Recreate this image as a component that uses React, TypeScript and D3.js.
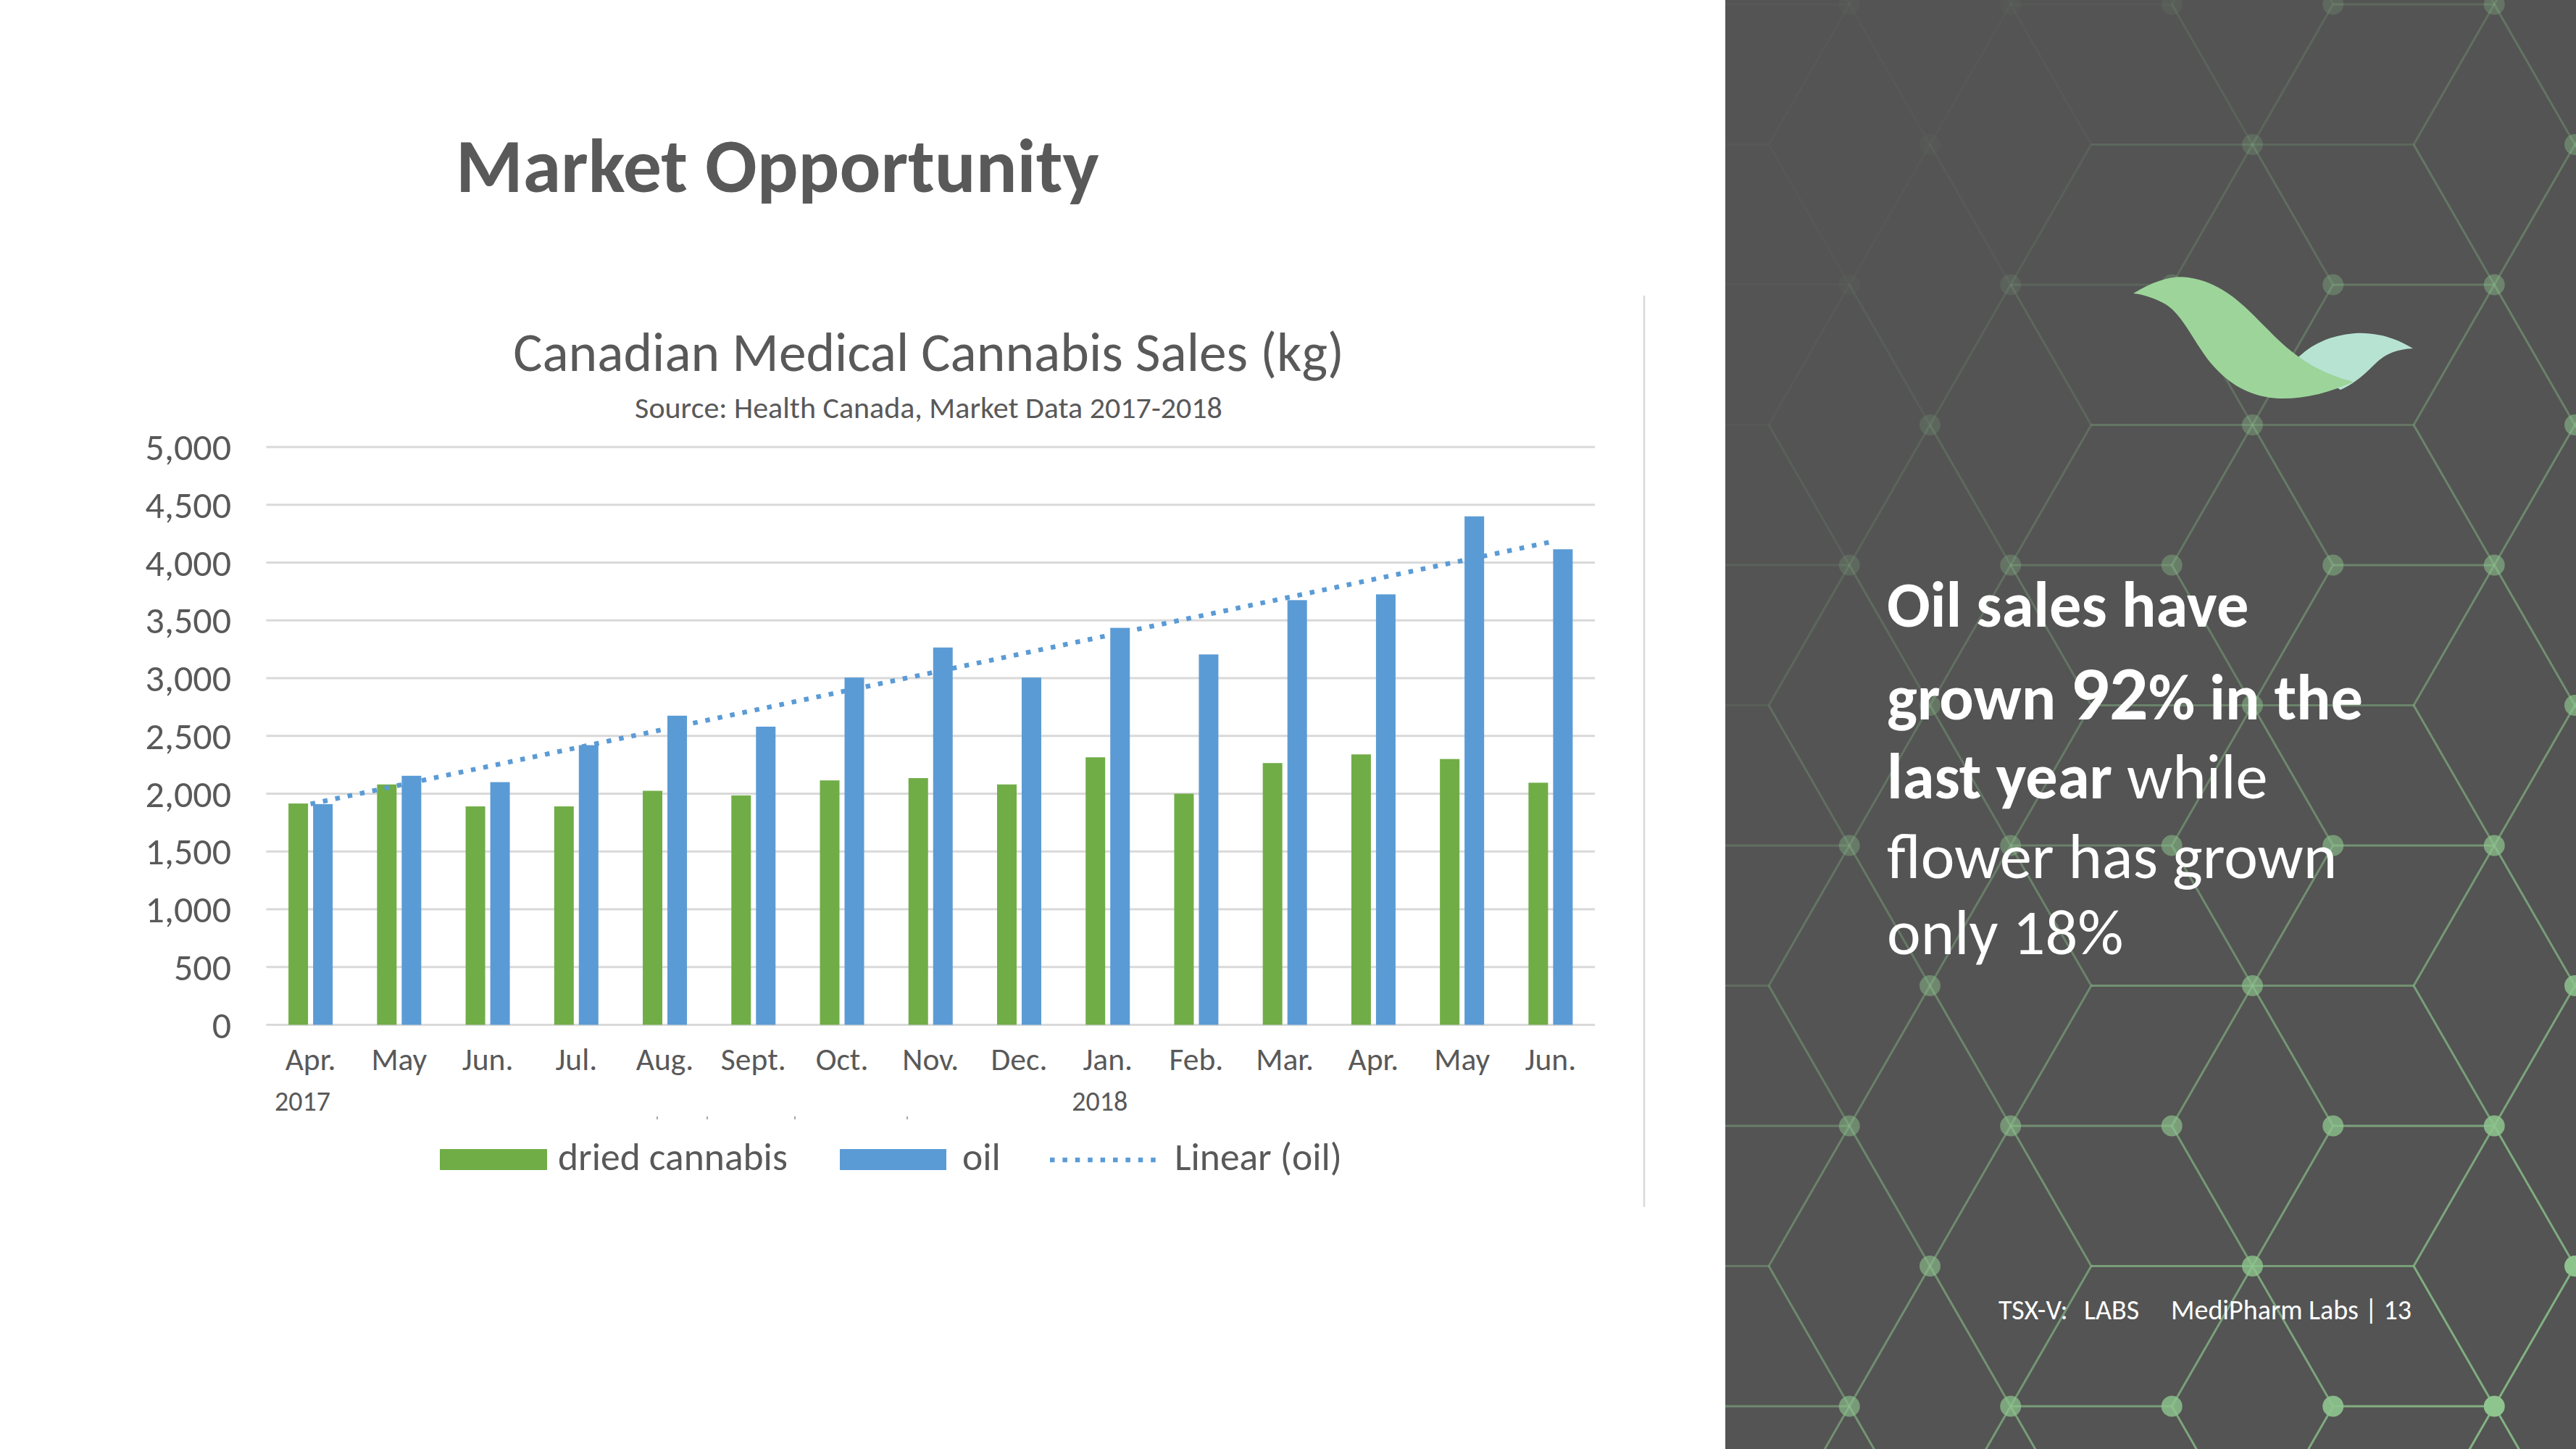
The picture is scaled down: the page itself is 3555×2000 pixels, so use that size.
import React from "react";
import * as d3 from "d3";

// ---------- data ----------
const categories = ["Apr.", "May", "Jun.", "Jul.", "Aug.", "Sept.", "Oct.", "Nov.", "Dec.", "Jan.", "Feb.", "Mar.", "Apr.", "May", "Jun."];
const yearLabels = [
  { index: 0, label: "2017" },
  { index: 9, label: "2018" },
];
const driedCannabis = [1915, 2080, 1890, 1890, 2025, 1985, 2115, 2135, 2080, 2315, 2000, 2265, 2340, 2300, 2095];
const oil = [1910, 2155, 2100, 2420, 2675, 2580, 3005, 3265, 3005, 3435, 3205, 3675, 3725, 4400, 4115];
const yTicks = [0, 500, 1000, 1500, 2000, 2500, 3000, 3500, 4000, 4500, 5000];
const seriesNames = ["dried cannabis", "oil"];
const trendName = "Linear (oil)";
const chartTitle = "Canadian Medical Cannabis Sales (kg)";
const chartSubtitle = "Source: Health Canada, Market Data 2017-2018";
const slideTitle = "Market Opportunity";

// ---------- layout ----------
const W = 3555;
const H = 2000;
const FONT = "Carlito, Calibri, Lato, sans-serif";
const GREEN = "#70ad47";
const BLUE = "#5b9bd5";
const TEXT_GRAY = "#595959";
const GRID = "#d9d9d9";
const PANEL_X = 2381;
const PANEL_BG = "#545454";

const plotLeft = 367.5;
const plotRight = 2201;
const plotBottom = 1414.5;
const plotTop = 617;

// hex lattice geometry (decorative background)
const HX0 = 2441;
const HDX = 222.5;
const HY0 = 6;
const HDY = 193.5;

function hexPattern() {
  const lines: { x1: number; y1: number; x2: number; y2: number }[] = [];
  const dots: { x: number; y: number }[] = [];
  const ax = (m: number) => HX0 + HDX / 2 + HDX * m;
  const bx = (k: number) => HX0 + HDX * k;
  const ry = (r: number) => HY0 + HDY * r;
  for (let r = -1; r <= 11; r++) {
    const odd = ((r % 2) + 2) % 2 === 1;
    if (odd) {
      for (let k = -2; k <= 7; k++) {
        const kk = ((k % 4) + 4) % 4;
        const x0 = bx(k);
        const y0 = ry(r);
        const targets = kk === 1 || kk === 3 ? [k - 1, k] : kk === 2 ? [k - 1] : [k];
        for (const rr of [r - 1, r + 1]) {
          for (const m of targets) lines.push({ x1: x0, y1: y0, x2: ax(m), y2: ry(rr) });
        }
        if (kk === 3) {
          lines.push({ x1: bx(k - 1), y1: y0, x2: bx(k + 1), y2: y0 });
        }
        if (k % 2 !== 0) dots.push({ x: x0, y: y0 });
      }
    } else {
      for (let m = -2; m <= 7; m++) {
        const x0 = ax(m);
        const y0 = ry(r);
        if (((m % 2) + 2) % 2 === 1) lines.push({ x1: x0, y1: y0, x2: x0 + HDX, y2: y0 });
        dots.push({ x: x0, y: y0 });
      }
    }
  }
  return { lines, dots };
}

function glow(x: number, y: number) {
  const xn = (x - PANEL_X) / (W - PANEL_X);
  const yn = y / H;
  return Math.max(0.04, Math.min(1, -0.18 + 0.5 * xn + 0.75 * yn));
}

export default function App() {
  const x = d3.scaleBand<number>().domain(d3.range(categories.length)).range([plotLeft, plotRight]);
  const xs = d3.scaleBand<string>().domain(seriesNames).range([-30.5, 30.5]).paddingInner(0.206);
  const y = d3.scaleLinear().domain([0, 5000]).range([plotBottom, plotTop]);
  const fmt = d3.format(",");
  const cx = (i: number) => (x(i) as number) + x.bandwidth() / 2;

  // least-squares linear trend of oil (Excel "Linear" trendline)
  const n = oil.length;
  const mx = d3.mean(d3.range(n)) as number;
  const my = d3.mean(oil) as number;
  const slope =
    d3.sum(d3.range(n), (i) => (i - mx) * (oil[i] - my)) / d3.sum(d3.range(n), (i) => (i - mx) * (i - mx));
  const intercept = my - slope * mx;
  const trend = d3
    .line<number>()
    .x((i) => cx(i))
    .y((i) => y(intercept + slope * i))([0, n - 1]) as string;

  const hex = hexPattern();

  return (
    <svg
      width={W}
      height={H}
      viewBox={`0 0 ${W} ${H}`}
      style={{ position: "absolute", left: 0, top: 0, display: "block" }}
      fontFamily={FONT}
    >
      <defs>
        <clipPath id="panelClip">
          <rect x={PANEL_X} y={0} width={W - PANEL_X} height={H} />
        </clipPath>
      </defs>
      <rect x={0} y={0} width={W} height={H} fill="#ffffff" />

      {/* slide title */}
      <text x={629} y={265} fontSize={106} fontWeight={700} fill={TEXT_GRAY}>
        {slideTitle}
      </text>

      {/* chart titles */}
      <text x={1281.5} y={512} fontSize={75.5} fill={TEXT_GRAY} textAnchor="middle">
        {chartTitle}
      </text>
      <text x={1281.5} y={577} fontSize={42} fill={TEXT_GRAY} textAnchor="middle">
        {chartSubtitle}
      </text>

      {/* gridlines and y labels */}
      {yTicks.map((t) => (
        <g key={t}>
          <line x1={plotLeft} x2={plotRight} y1={y(t)} y2={y(t)} stroke={GRID} strokeWidth={3} />
          <text x={319} y={y(t) + 18} fontSize={52} fill={TEXT_GRAY} textAnchor="end">
            {fmt(t)}
          </text>
        </g>
      ))}

      {/* bars */}
      {categories.map((c, i) => (
        <g key={"b" + i}>
          <rect
            x={cx(i) + (xs(seriesNames[0]) as number)}
            y={y(driedCannabis[i])}
            width={xs.bandwidth()}
            height={y(0) - y(driedCannabis[i])}
            fill={GREEN}
          />
          <rect
            x={cx(i) + (xs(seriesNames[1]) as number)}
            y={y(oil[i])}
            width={xs.bandwidth()}
            height={y(0) - y(oil[i])}
            fill={BLUE}
          />
        </g>
      ))}

      {/* trendline */}
      <path d={trend} fill="none" stroke={BLUE} strokeWidth={6.5} strokeDasharray="6.5 10.9" />

      {/* x labels */}
      {categories.map((c, i) => (
        <text key={"x" + i} x={cx(i)} y={1477} fontSize={43.5} fill={TEXT_GRAY} textAnchor="middle">
          {c}
        </text>
      ))}
      {yearLabels.map((yl) => (
        <text key={yl.label} x={cx(yl.index) - 11} y={1533} fontSize={38} fill={TEXT_GRAY} textAnchor="middle">
          {yl.label}
        </text>
      ))}
      {[906, 975, 1096, 1251].map((px) => (
        <rect key={"m" + px} x={px} y={1541} width={2} height={4} fill="#a6a6a6" />
      ))}

      {/* legend */}
      <rect x={607} y={1586} width={148} height={29} fill={GREEN} />
      <text x={770} y={1615} fontSize={53.5} fill={TEXT_GRAY}>
        {seriesNames[0]}
      </text>
      <rect x={1159} y={1586} width={147} height={29} fill={BLUE} />
      <text x={1328} y={1615} fontSize={53.5} fill={TEXT_GRAY}>
        {seriesNames[1]}
      </text>
      <line x1={1449} x2={1602} y1={1601} y2={1601} stroke={BLUE} strokeWidth={6.5} strokeDasharray="6.5 10.9" />
      <text x={1621} y={1615} fontSize={53.5} fill={TEXT_GRAY}>
        {trendName}
      </text>

      {/* separator */}
      <line x1={2269} x2={2269} y1={408} y2={1666} stroke={GRID} strokeWidth={2.5} />

      {/* right panel */}
      <rect x={PANEL_X} y={0} width={W - PANEL_X} height={H} fill={PANEL_BG} />
      <g clipPath="url(#panelClip)">
        {hex.lines.map((l, i) => (
          <line
            key={"h" + i}
            x1={l.x1}
            y1={l.y1}
            x2={l.x2}
            y2={l.y2}
            stroke="#8cc48c"
            strokeWidth={3}
            opacity={glow((l.x1 + l.x2) / 2, (l.y1 + l.y2) / 2) * 0.85}
          />
        ))}
        {hex.dots.map((d, i) => (
          <circle key={"d" + i} cx={d.x} cy={d.y} r={14.5} fill="#8ec58e" opacity={glow(d.x, d.y)} />
        ))}
      </g>

      {/* logo leaves */}
      <path
        d="M 3170,495 C 3190,475 3215,463 3250,460 C 3285,458 3312,470 3330,481 C 3305,482 3290,490 3278,502 C 3262,518 3248,530 3230,538 L 3200,520 Z"
        fill="#b7e3d3"
      />
      <path
        d="M 2944,405 C 2975,386 3000,380 3020,383 C 3070,390 3100,425 3130,455 C 3165,492 3200,515 3248,527 C 3215,542 3180,551 3145,550 C 3105,548 3075,530 3050,500 C 3025,468 3010,430 2985,418 C 2970,410 2955,406 2944,405 Z"
        fill="#9dd49a"
      />

      {/* panel text */}
      <g fill="#ffffff" fontSize={88.5}>
        <text x={2604} y={865} fontWeight={700}>
          Oil sales have
        </text>
        <text x={2604} y={993} fontWeight={700}>
          <tspan>grown </tspan>
          <tspan fontSize={106}>92</tspan>
          <tspan>% in the</tspan>
        </text>
        <text x={2604} y={1102}>
          <tspan fontWeight={700}>last year</tspan>
          <tspan> while</tspan>
        </text>
        <text x={2604} y={1212}>
          flower has grown
        </text>
        <text x={2604} y={1317}>
          only 18%
        </text>
      </g>

      {/* footer */}
      <g fill="#ffffff" fontSize={38}>
        <text x={2758} y={1821}>TSX-V:</text>
        <text x={2876} y={1821}>LABS</text>
        <text x={2996} y={1821}>MediPharm Labs | 13</text>
      </g>
    </svg>
  );
}
